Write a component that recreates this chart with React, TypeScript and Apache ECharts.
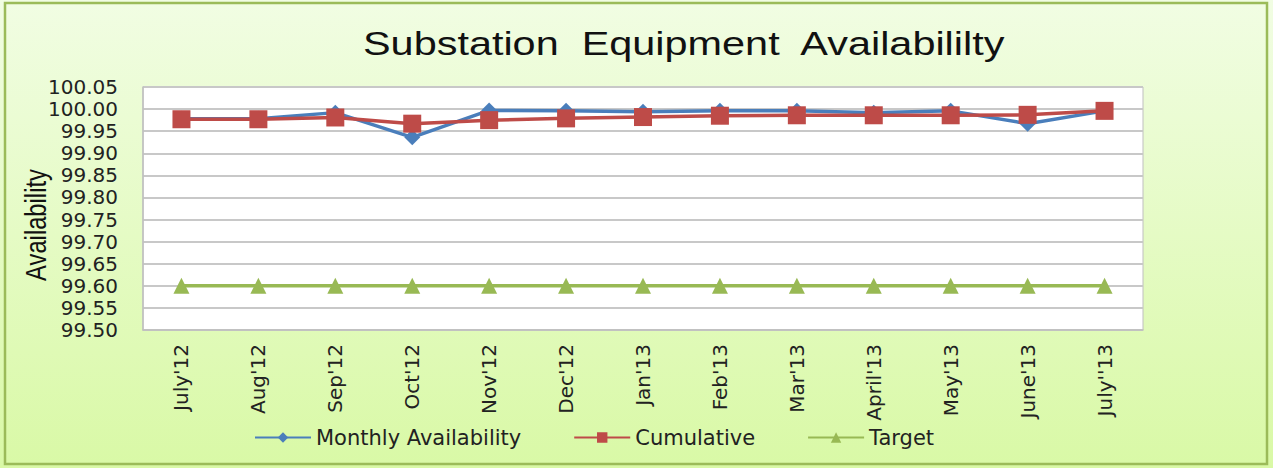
import React, { useEffect, useRef } from "react";
import * as echarts from "echarts";

const categories = ["July'12", "Aug'12", "Sep'12", "Oct'12", "Nov'12", "Dec'12", "Jan'13", "Feb'13", "Mar'13", "April'13", "May'13", "June'13", "July''13"];
const monthly = [99.978, 99.978, 99.992, 99.936, 99.997, 99.996, 99.994, 99.996, 99.996, 99.992, 99.996, 99.967, 99.996];
const cumulative = [99.977, 99.977, 99.981, 99.967, 99.975, 99.979, 99.982, 99.985, 99.986, 99.986, 99.986, 99.987, 99.996];
const target = [99.6, 99.6, 99.6, 99.6, 99.6, 99.6, 99.6, 99.6, 99.6, 99.6, 99.6, 99.6, 99.6];
const titleText = "Substation  Equipment  Availabililty";
const yAxisTitle = "Availability";

export default function App() {
  const ref = useRef<HTMLDivElement>(null);
  useEffect(() => {
    document.body.style.margin = "0";
    const chart = echarts.init(ref.current!, null, { renderer: "svg" });
    chart.setOption({
      animation: false,
      backgroundColor: {
        type: "linear", x: 0, y: 0, x2: 0, y2: 1,
        colorStops: [
          { offset: 0, color: "#f1fde3" },
          { offset: 1, color: "#d9f9a6" },
        ],
      },
      graphic: [
        {
          type: "rect",
          shape: { x: 5, y: 3, width: 1262, height: 461 },
          style: { fill: "none", stroke: "#9bbb59", lineWidth: 2.5 },
          silent: true,
        },
        {
          type: "text",
          x: 363, y: 27, scaleX: 1.255,
          style: { text: titleText, fontFamily: "Liberation Sans", fontSize: 33, fill: "#111", verticalAlign: "top", align: "left" },
          silent: true,
        },
        {
          type: "text",
          x: 22, y: 225, rotation: Math.PI / 2, scaleX: 0.82,
          style: { text: yAxisTitle, fontFamily: "Liberation Sans", fontSize: 29, fill: "#111", verticalAlign: "top", align: "center" },
          silent: true,
        },
      ],
      legend: {
        left: 249,
        top: 422,
        itemWidth: 56,
        itemHeight: 13,
        itemGap: 52,
        textStyle: { fontFamily: "DejaVu Sans", fontSize: 21, color: "#222" },
        data: ["Monthly Availability", "Cumulative", "Target"],
      },
      grid: {
        left: 143, right: 130, top: 87, bottom: 138,
        show: true, backgroundColor: "#ffffff", borderColor: "#bfbfbf", borderWidth: 1,
      },
      xAxis: {
        type: "category",
        data: categories,
        boundaryGap: true,
        axisLine: { show: true, lineStyle: { color: "#bfbfbf", width: 1.5 } },
        axisTick: { show: false },
        axisLabel: { rotate: 90, margin: 14, fontFamily: "DejaVu Sans", fontSize: 20, color: "#222", interval: 0 },
      },
      yAxis: {
        type: "value",
        min: 99.5,
        max: 100.05,
        interval: 0.05,
        axisLine: { show: true, lineStyle: { color: "#bfbfbf", width: 1.5 } },
        axisTick: { show: false },
        splitLine: { lineStyle: { color: "#c8c8c8", width: 2 } },
        axisLabel: {
          fontFamily: "DejaVu Sans", fontSize: 20, color: "#222", margin: 25,
          formatter: (v: number) => v.toFixed(2),
        },
      },
      series: [
        {
          name: "Monthly Availability", type: "line", data: monthly,
          symbol: "diamond", symbolSize: 16,
          lineStyle: { color: "#4a7ebb", width: 3.5 },
          itemStyle: { color: "#4a7ebb" }, z: 2,
        },
        {
          name: "Cumulative", type: "line", data: cumulative,
          symbol: "rect", symbolSize: 18,
          lineStyle: { color: "#be4b48", width: 3.5 },
          itemStyle: { color: "#be4b48" }, z: 3,
        },
        {
          name: "Target", type: "line", data: target,
          symbol: "triangle", symbolSize: 16,
          lineStyle: { color: "#98b954", width: 3.5 },
          itemStyle: { color: "#98b954" }, z: 2,
        },
      ],
    });
    return () => chart.dispose();
  }, []);
  return <div ref={ref} style={{ width: 1273, height: 468 }} />;
}
